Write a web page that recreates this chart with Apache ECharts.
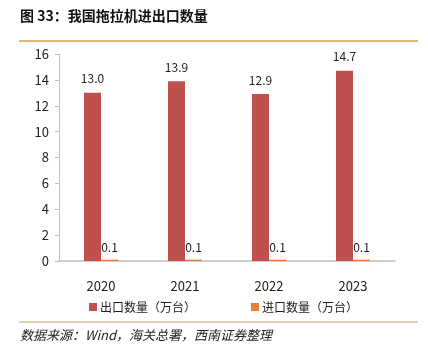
<!DOCTYPE html>
<html>
<head>
<meta charset="utf-8">
<script src="https://cdn.jsdelivr.net/npm/echarts@6/dist/echarts.min.js"></script>
<style>
  html, body { margin: 0; padding: 0; background: #fff; }
  #chart { width: 428px; height: 354px; }
</style>
</head>
<body>
<div id="chart"></div>
<script>
const years = ['2020', '2021', '2022', '2023']
const exportQty = [13.0, 13.9, 12.9, 14.7]
const importQty = [0.1, 0.1, 0.1, 0.1]
const yTicks = [0, 2, 4, 6, 8, 10, 12, 14, 16]

const font = '"Noto Sans CJK SC", "Noto Sans", sans-serif'
const chart = echarts.init(document.getElementById('chart'))

chart.setOption({
  animation: false,
  textStyle: {fontFamily: font},
  graphic: [
    {
      type: 'text', left: 20, top: 9,
      style: {text: '图 33：我国拖拉机进出口数量', font: 'bold 14px ' + font, fill: '#111'}
    },
    {
      type: 'line', shape: {x1: 19, y1: 41, x2: 418, y2: 41},
      style: {stroke: '#D4A050', lineWidth: 1.5}
    },
    {
      type: 'line', shape: {x1: 19, y1: 322, x2: 418, y2: 322},
      style: {stroke: '#D9BE90', lineWidth: 1.5}
    },
    {
      type: 'text', left: 20, top: 329,
      style: {text: '数据来源：Wind，海关总署，西南证券整理', font: 'italic 13px ' + font, fill: '#222'}
    }
  ],
  grid: {left: 59, right: 33, top: 54, bottom: 93},
  legend: {
    top: 296,
    left: 84,
    itemWidth: 8,
    itemHeight: 8,
    itemGap: 55,
    icon: 'rect',
    textStyle: {fontSize: 12, color: '#222', padding: [0, 0, 0, -2]},
    data: ['出口数量（万台）', '进口数量（万台）']
  },
  xAxis: {
    type: 'category',
    data: years,
    axisTick: {show: false},
    axisLine: {lineStyle: {color: '#BFBFBF', width: 1.5}},
    axisLabel: {color: '#222', fontSize: 13, margin: 19}
  },
  yAxis: {
    type: 'value',
    min: yTicks[0],
    max: yTicks[yTicks.length - 1],
    interval: 2,
    splitLine: {show: false},
    axisLine: {show: true, lineStyle: {color: '#BFBFBF'}},
    axisTick: {show: true, length: 4, lineStyle: {color: '#BFBFBF'}},
    axisLabel: {color: '#222', fontSize: 13, margin: 10}
  },
  series: [
    {
      name: '出口数量（万台）',
      type: 'bar',
      data: exportQty,
      barWidth: 17,
      barGap: '0%',
      itemStyle: {color: '#C0504D'},
      label: {
        show: true, position: 'top', distance: 8,
        color: '#222', fontSize: 12,
        formatter: p => p.value.toFixed(1)
      }
    },
    {
      name: '进口数量（万台）',
      type: 'bar',
      data: importQty,
      barWidth: 17,
      barGap: '0%',
      itemStyle: {color: '#ED7D31'},
      label: {
        show: true, position: 'top', distance: 6,
        color: '#222', fontSize: 12,
        formatter: p => p.value.toFixed(1)
      }
    }
  ]
})
</script>
</body>
</html>
